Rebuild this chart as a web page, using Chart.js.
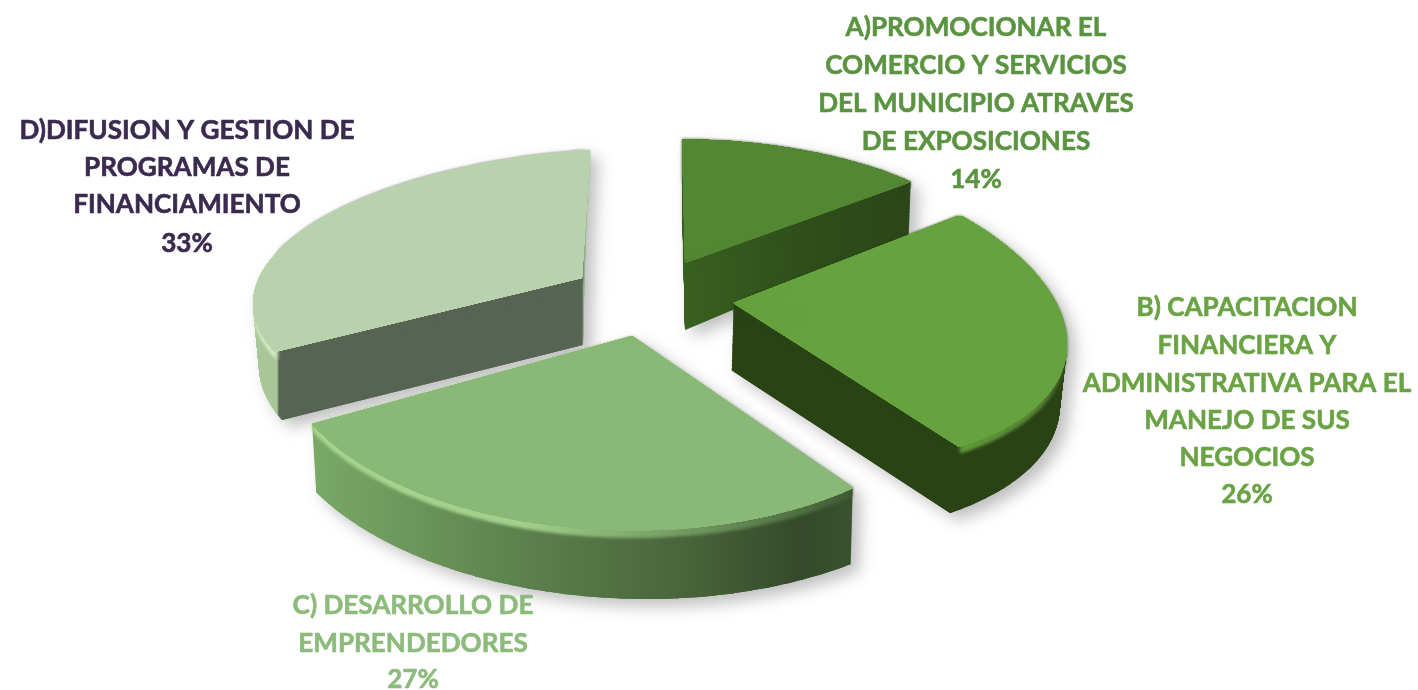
<!DOCTYPE html>
<html><head><meta charset="utf-8">
<style>html,body{margin:0;padding:0;background:#fff}canvas{display:block}</style>
<script src="https://cdn.jsdelivr.net/npm/chart.js@4"></script></head>
<body><canvas id="c" width="1418" height="690"></canvas>
<script>
const categories = ["A)PROMOCIONAR EL COMERCIO Y SERVICIOS DEL MUNICIPIO ATRAVES DE EXPOSICIONES","B) CAPACITACION FINANCIERA Y ADMINISTRATIVA PARA EL MANEJO DE SUS NEGOCIOS","C) DESARROLLO DE EMPRENDEDORES","D)DIFUSION Y GESTION DE PROGRAMAS DE FINANCIAMIENTO"];
const shares = [14,26,27,33];
const labelA = ["A)PROMOCIONAR EL","COMERCIO Y SERVICIOS","DEL MUNICIPIO ATRAVES","DE EXPOSICIONES"];
const labelB = ["B) CAPACITACION","FINANCIERA Y","ADMINISTRATIVA PARA EL","MANEJO DE SUS","NEGOCIOS"];
const labelC = ["C) DESARROLLO DE","EMPRENDEDORES"];
const labelD = ["D)DIFUSION Y GESTION DE","PROGRAMAS DE","FINANCIAMIENTO"];
const faceColors = ["#548734","#66a23f","#8ab877","#b9d2ae"];
const textColors = ["#5a9440","#6aa344","#8cbb7b","#3b2a4f"];

// perspective view of each exploded slice: [tip, start corner, mid arc, end corner] on screen
const views = [
 {top:[[685,263],[682,139],[808,151],[911,182]], bot:[[685,330],[682,200],[808,209],[909,235]]},
 {top:[[733,303],[960,215],[1067,345],[959,447]], bot:[[731,370],[958,282],[1060,405],[950,513]]},
 {top:[[632,336],[853,488],[557,526],[312,424]], bot:[[632,402],[851,564],[557,593],[316,492]]},
 {top:[[582,278],[275,352],[314,223],[590,150]], bot:[[583,345],[282,420],[320,280],[586,212]]}
];
const wallStops = [
 [[685,"#39601f"],[800,"#2f4f1b"],[909,"#2b4618"]],
 [[731,"#294315"],[1065,"#294315"]],
 [[312,"#7aa966"],[500,"#5f8550"],[700,"#466239"],[800,"#344a2a"],[853,"#3a5230"]],
 [[255,"#a7c798"],[277,"#a7c798"],[279,"#586453"],[582,"#586453"],[584,"#a3bf95"],[592,"#a3bf95"]]
];
const rimStops = [
 [[685,"#39601f"],[800,"#2f4f1b"],[909,"#2b4618"]],
 [[731,"#294315"],[958,"#294315"],[962,"#5f9a3a"],[1040,"#557f35"],[1065,"#3a5c22"]],
 [[312,"#a6d48e"],[520,"#a2d08b"],[700,"#6e955c"],[853,"#3f5a33"]],
 [[255,"#d4ecc6"],[277,"#cfe6c0"],[279,"#586453"],[582,"#586453"],[584,"#a3bf95"],[592,"#a3bf95"]]
];
const drawOrder = [0,3,1,2];
const WEDGE = 3*Math.PI/180;

function solve(A,b){
  const n=b.length,M=A.map((r,i)=>r.concat(b[i]));
  for(let c=0;c<n;c++){
    let p=c;for(let r=c+1;r<n;r++)if(Math.abs(M[r][c])>Math.abs(M[p][c]))p=r;
    [M[c],M[p]]=[M[p],M[c]];
    for(let r=0;r<n;r++){if(r===c)continue;const f=M[r][c]/M[c][c];for(let k=c;k<=n;k++)M[r][k]-=f*M[c][k];}
  }
  return M.map((r,i)=>r[n]/r[i]);
}
function homography(pts,ths){
  const src=[[0,0]].concat(ths.map(t=>[Math.sin(t),Math.cos(t)]));
  const A=[],b=[];
  src.forEach(([u,v],i)=>{
    const [x,y]=pts[i];
    A.push([u,v,1,0,0,0,-u*x,-v*x]);b.push(x);
    A.push([0,0,0,u,v,1,-u*y,-v*y]);b.push(y);
  });
  const h=solve(A,b);
  return (u,v)=>{const w=h[6]*u+h[7]*v+1;return [(h[0]*u+h[1]*v+h[2])/w,(h[3]*u+h[4]*v+h[5])/w];};
}
function matrixFor(t,s,e,th0,th1,cx,cy,r){
  const a=Math.sin(th0),b=Math.cos(th0),c=Math.sin(th1),d=Math.cos(th1);
  const det=a*d-b*c;
  const vs=[s[0]-t[0],s[1]-t[1]],ve=[e[0]-t[0],e[1]-t[1]];
  const R=[(vs[0]*d-ve[0]*b)/det,(vs[1]*d-ve[1]*b)/det];
  const U=[(a*ve[0]-c*vs[0])/det,(a*ve[1]-c*vs[1])/det];
  const A=R[0]/r,B=R[1]/r,C=-U[0]/r,D=-U[1]/r;
  return [A,B,C,D,t[0]-A*cx-C*cy,t[1]-B*cx-D*cy];
}
// thin wedges of the library's arc element, each with its own local view
function wedgesOf(el,view){
  const p=el.getProps(['x','y','startAngle','endAngle','outerRadius'],true);
  const t0=p.startAngle+Math.PI/2,t1=p.endAngle+Math.PI/2,tm=(t0+t1)/2;
  const H0=homography(view.top,[t0,tm,t1]),H1=homography(view.bot,[t0,tm,t1]);
  const n=Math.ceil((t1-t0)/WEDGE),out=[];
  for(let i=0;i<n;i++){
    const a=t0+(t1-t0)*i/n,b=t0+(t1-t0)*(i+1)/n;
    const mk=H=>matrixFor(H(0,0),H(Math.sin(a),Math.cos(a)),H(Math.sin(b),Math.cos(b)),a,b,p.x,p.y,p.outerRadius);
    const e=Object.create(el);
    e.startAngle=a-Math.PI/2;
    e.endAngle=(i<n-1?b+0.006:b)-Math.PI/2;
    e.circumference=e.endAngle-e.startAngle;
    e.options=Object.assign({},el.options,{borderWidth:0,offset:0,spacing:0});
    out.push({e,M0:mk(H0),M1:mk(H1)});
  }
  return out;
}
function paint(wedges,ctx,fill,t){
  wedges.forEach(w=>{
    ctx.setTransform(...w.M0.map((v,i)=>v+(w.M1[i]-v)*t));
    w.e.options.backgroundColor=fill;
    w.e.draw(ctx);
  });
}
function hGrad(ctx,stops){
  const x0=stops[0][0],x1=stops[stops.length-1][0];
  const g=ctx.createLinearGradient(x0,0,x1,0);
  stops.forEach(s=>g.addColorStop((s[0]-x0)/(x1-x0),s[1]));
  return g;
}
function newLayer(W,H){const c=document.createElement('canvas');c.width=W;c.height=H;return c;}
function extrude(wedges,from,to,stops,W,H){
  const c=newLayer(W,H);
  const x=c.getContext('2d'),n=Math.max(1,Math.round((to-from)*75));
  for(let k=n;k>=0;k--)paint(wedges,x,"#000",from+(to-from)*k/n);
  x.setTransform(1,0,0,1,0,0);
  x.globalCompositeOperation='source-in';
  x.fillStyle=hGrad(x,stops);
  x.fillRect(0,0,W,H);
  return c;
}
function faceLayer(wedges,fill,W,H){
  const c=newLayer(W,H),x=c.getContext('2d');
  paint(wedges,x,fill,0);
  x.setTransform(1,0,0,1,0,0);
  // close the hairline joins between wedges
  for(let k=0;k<4;k++)x.drawImage(c,0,0);
  return c;
}
const pie3d={
  id:'pie3d',
  beforeDatasetsDraw(chart){
    const ctx=chart.ctx,meta=chart.getDatasetMeta(0),W=chart.width,H=chart.height;
    const items=meta.data.map((el,i)=>{
      const w=wedgesOf(el,views[i]);
      return {wall:extrude(w,0,1,wallStops[i],W,H),rim:extrude(w,0,0.11,rimStops[i],W,H),face:faceLayer(w,faceColors[i],W,H)};
    });
    ctx.save();
    items.forEach(it=>{
      ctx.save();
      ctx.shadowColor='rgba(0,0,0,0.26)';ctx.shadowBlur=16;ctx.shadowOffsetX=8;ctx.shadowOffsetY=7;
      ctx.drawImage(it.wall,0,0);
      ctx.restore();
    });
    drawOrder.forEach(i=>{
      const it=items[i];
      ctx.drawImage(it.wall,0,0);
      ctx.save();ctx.filter='blur(1.6px)';ctx.drawImage(it.rim,0,0);ctx.restore();
      ctx.drawImage(it.face,0,0);
    });
    ctx.restore();
    return false;
  },
  afterDraw(chart){
    const ctx=chart.ctx;
    const blocks=[
      {lines:labelA,x:976,ys:[28,66,104,142,180]},
      {lines:labelB,x:1247,ys:[308,346,384,421,458,495]},
      {lines:labelC,x:413,ys:[606,644,680]},
      {lines:labelD,x:187,ys:[131,168,205,244]}
    ];
    ctx.save();
    ctx.font='bold 26.1px Lato';ctx.textAlign='center';ctx.textBaseline='middle';
    ctx.filter='blur(0.5px)';ctx.lineWidth=0.6;ctx.lineJoin='round';
    blocks.forEach((b,i)=>{
      ctx.fillStyle=ctx.strokeStyle=textColors[i];
      b.lines.concat([shares[i]+"%"]).forEach((t,j)=>{ctx.fillText(t,b.x,b.ys[j]);ctx.strokeText(t,b.x,b.ys[j]);});
    });
    ctx.restore();
  }
};
new Chart(document.getElementById('c'),{
  type:'pie',
  data:{labels:categories,datasets:[{data:shares,backgroundColor:faceColors,borderWidth:0}]},
  options:{responsive:false,animation:false,rotation:0,
    plugins:{legend:{display:false},tooltip:{enabled:false}}},
  plugins:[pie3d]
});
</script></body></html>
